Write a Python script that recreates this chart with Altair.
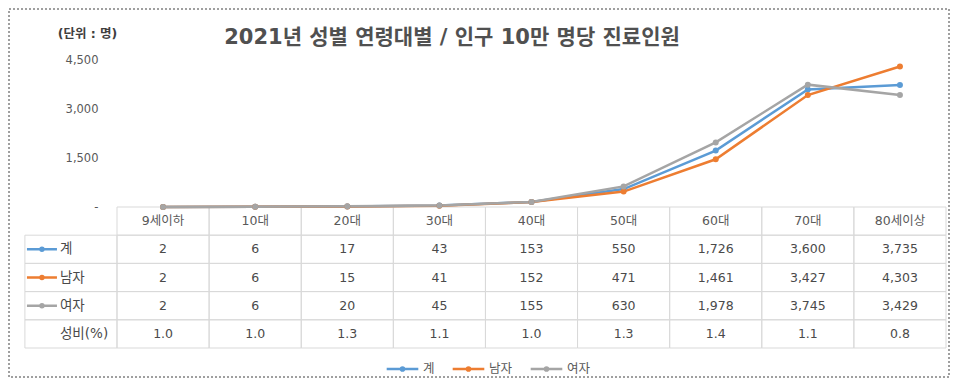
import altair as alt
import pandas as pd

# ---------------- data ----------------
ages = ["9세이하", "10대", "20대", "30대", "40대", "50대", "60대", "70대", "80세이상"]
series_names = ["계", "남자", "여자"]
total = [2, 6, 17, 43, 153, 550, 1726, 3600, 3735]
male = [2, 6, 15, 41, 152, 471, 1461, 3427, 4303]
female = [2, 6, 20, 45, 155, 630, 1978, 3745, 3429]
ratio = [1.0, 1.0, 1.3, 1.1, 1.0, 1.3, 1.4, 1.1, 0.8]
ratio_label = "성비(%)"
y_ticks = [0, 1500, 3000, 4500]
colors = ["#5B9BD5", "#ED7D31", "#A5A5A5"]
title_text = "2021년 성별 연령대별 / 인구 10만 명당 진료인원"
unit_text = "(단위 : 명)"

KR = "Noto Sans CJK KR"
MIX = "DejaVu Sans, Noto Sans CJK KR"
LABEL_COL = "구분"
cols = [LABEL_COL] + ages
rows = ["header"] + series_names + [ratio_label]

# long data for lines
line_rows = []
for s, vals in zip(series_names, [total, male, female]):
    for i, (a, v) in enumerate(zip(ages, vals)):
        line_rows.append({"age": a, "series": s, "grp": s, "value": v, "idx": i})
line_df = pd.DataFrame(line_rows)

# table cells
cells = []
for a in ages:
    cells.append({"col": a, "row": "header", "text": a, "kind": "header"})
for s, vals in zip(series_names, [total, male, female]):
    for a, v in zip(ages, vals):
        cells.append({"col": a, "row": s, "text": f"{v:,}", "kind": "num"})
for a, r in zip(ages, ratio):
    cells.append({"col": a, "row": ratio_label, "text": f"{r:.1f}", "kind": "num"})
for s in series_names + [ratio_label]:
    cells.append({"col": LABEL_COL, "row": s, "text": s, "kind": "label"})
cells_df = pd.DataFrame(cells)
keys_df = pd.DataFrame({"col": [LABEL_COL] * 3, "row": series_names, "grp": series_names})

# ---------------- scales ----------------
W, H = 829, 288
LINE_H = 147
x_scale = alt.Scale(domain=cols, range=[-92.1, W], paddingInner=0, paddingOuter=0)
y_line = alt.Scale(domain=[0, 4500], range=[LINE_H, 0], nice=False)
y_table = alt.Scale(domain=rows, range=[LINE_H, H], paddingInner=0, paddingOuter=0)
c_scale = alt.Scale(domain=series_names, range=colors)
# data-derived domain (same order) so these scales do not merge legends with colour
aux_scale = alt.Scale(range=colors)

key_path = "M-1,0L1,0M-0.1,0A0.1,0.1,0,1,0,0.1,0A0.1,0.1,0,1,0,-0.1,0"

X = lambda f: alt.X(f, type="nominal", scale=x_scale, axis=None)
YT = alt.Y("row:N", scale=y_table, axis=None)

base_cells = alt.Chart(cells_df)

rects = base_cells.mark_rect(fill="white", fillOpacity=0, stroke="#D9D9D9", strokeWidth=1).encode(
    x=X("col"), y=YT
)

header_text = base_cells.transform_filter(alt.datum.kind == "header").mark_text(
    font=MIX, fontSize=12.5, color="#595959", baseline="middle"
).encode(x=X("col"), y=YT, text="text:N")

num_text = base_cells.transform_filter(alt.datum.kind == "num").mark_text(
    font=MIX, fontSize=12.5, color="#4a4a4a", baseline="middle"
).encode(x=X("col"), y=YT, text="text:N")

label_text = base_cells.transform_filter(alt.datum.kind == "label").mark_text(
    font=MIX, fontSize=13.5, color="#4a4a4a", baseline="middle", align="left", dx=-11
).encode(x=X("col"), y=YT, text="text:N")

keys = alt.Chart(keys_df).mark_point(
    shape=key_path, filled=False, size=900, strokeWidth=2.5, opacity=1, xOffset=-29
).encode(
    x=X("col"), y=YT,
    stroke=alt.Stroke("grp:N", scale=aux_scale, legend=None),
)

legend = alt.Legend(
    orient="none", legendX=268, legendY=291, direction="horizontal", title=None,
    symbolType=key_path, symbolSize=1000, symbolStrokeWidth=2.5,
    labelFont=KR, labelFontSize=12.5, labelColor="#595959", labelOffset=3, columnPadding=12,
)

y_axis = alt.Axis(
    values=y_ticks,
    labelExpr="datum.value == 0 ? '-' : format(datum.value, ',')",
    ticks=False, domain=False, grid=False, labelPadding=19,
    labelFont=MIX, labelFontSize=11.5, labelColor="#595959",
    title=unit_text, titleAngle=0, titleX=-30, titleY=-27, titleAlign="center",
    titleBaseline="middle", titleFont=MIX, titleFontSize=12.5, titleFontWeight="bold",
    titleColor="#404040",
)

lines = alt.Chart(line_df).mark_line(strokeWidth=2.5).encode(
    x=X("age"),
    y=alt.Y("value:Q", scale=y_line, axis=y_axis),
    color=alt.Color("series:N", scale=c_scale, legend=legend),
    order=alt.Order("idx:Q"),
)

points = alt.Chart(line_df).mark_point(filled=True, size=36, opacity=1).encode(
    x=X("age"),
    y=alt.Y("value:Q", scale=y_line, axis=None),
    fill=alt.Fill("grp:N", scale=aux_scale, legend=None),
)

title_mark = alt.Chart(alt.Data(values=[{"t": title_text}])).mark_text(
    font=MIX, fontSize=21, fontWeight="bold", color="#505050", baseline="middle", align="center"
).encode(x=alt.value(335), y=alt.value(-22), text="t:N")

border = alt.Chart(alt.Data(values=[{}])).mark_rect(
    fillOpacity=0, stroke="#404040", strokeWidth=1, strokeDash=[2, 2]
).encode(x=alt.value(-108), x2=alt.value(832), y=alt.value(-51), y2=alt.value(317))

chart = alt.layer(
    border, rects, header_text, num_text, label_text, keys, lines, points, title_mark
).resolve_scale(y="independent").properties(
    width=W, height=H,
    autosize=alt.AutoSizeParams(type="none"),
    padding={"left": 109, "top": 52, "right": 4, "bottom": 30},
).configure_view(stroke=None)

chart.save("out.html", embed_options={"renderer": "svg", "actions": False})
